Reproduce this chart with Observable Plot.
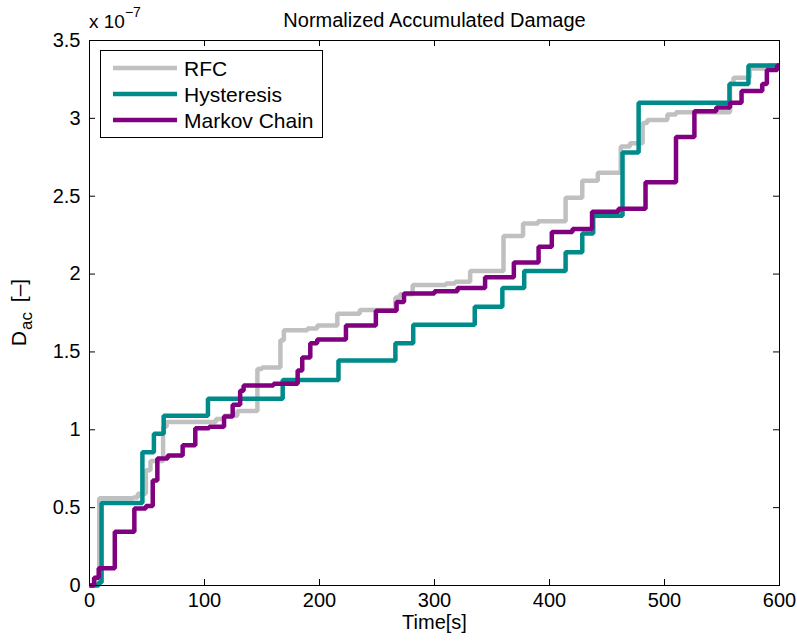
<!DOCTYPE html>
<html><head><meta charset="utf-8">
<script src="https://cdn.jsdelivr.net/npm/d3@7"></script>
<script src="https://cdn.jsdelivr.net/npm/@observablehq/plot@0.6"></script>
<style>body{margin:0;background:#fff}#chart{width:797px;height:642px}</style>
</head><body><div id="chart"></div>
<script>
const xTicks = [0, 100, 200, 300, 400, 500, 600];
const yTicks = [0, 0.5, 1, 1.5, 2, 2.5, 3, 3.5];
const seriesNames = ["RFC", "Hysteresis", "Markov Chain"];
const seriesColors = ["#c0c0c0", "#008b8b", "#800080"];
const titleText = "Normalized Accumulated Damage";
const xLabel = "Time[s]";

// values in units of 1e-7
const rfcT = [0, 5, 8.5, 38, 42, 49, 53, 64, 67, 110, 117, 128.5, 146, 150, 166, 169, 189.5, 198, 215.5, 235, 266, 270, 281, 310, 318, 331, 360, 377, 390, 414, 428.5, 442, 462, 470, 481, 485, 502.5, 510, 557, 560, 574, 590, 600];
const rfcD = [0, 0.05, 0.56, 0.565, 0.59, 0.74, 0.80, 1.02, 1.05, 1.07, 1.09, 1.12, 1.39, 1.40, 1.575, 1.64, 1.65, 1.67, 1.745, 1.77, 1.85, 1.87, 1.93, 1.94, 1.95, 2.02, 2.245, 2.325, 2.34, 2.49, 2.60, 2.65, 2.82, 2.84, 2.97, 2.99, 3.025, 3.04, 3.225, 3.26, 3.32, 3.34, 3.34];

const hysT = [0, 8, 10.5, 46, 56, 64.5, 103, 168, 216.5, 266, 281.5, 335, 359, 378, 414, 428.5, 438, 463.5, 477.5, 556.5, 573, 600];
const hysD = [0, 0.02, 0.53, 0.855, 0.975, 1.09, 1.2, 1.32, 1.445, 1.555, 1.675, 1.79, 1.91, 2.02, 2.14, 2.26, 2.375, 2.78, 3.10, 3.22, 3.34, 3.34];

const mkvT = [0, 4, 8, 22, 39, 49, 55, 59, 68, 81, 92, 104, 117, 124.5, 131, 134, 160, 181, 185, 192, 198, 223, 249, 267, 273.5, 300, 320, 344, 369, 390.5, 402, 420, 437, 460, 483.5, 510, 526, 545, 557, 567, 585, 589, 598, 600];
const mkvD = [0, 0.05, 0.11, 0.345, 0.495, 0.51, 0.675, 0.815, 0.835, 0.90, 1.01, 1.02, 1.085, 1.16, 1.25, 1.285, 1.295, 1.38, 1.465, 1.555, 1.58, 1.67, 1.765, 1.82, 1.875, 1.89, 1.91, 1.98, 2.075, 2.175, 2.27, 2.29, 2.40, 2.42, 2.59, 2.88, 3.045, 3.07, 3.10, 3.175, 3.22, 3.31, 3.34, 3.34];

const rows = [];
[[rfcT, rfcD], [hysT, hysD], [mkvT, mkvD]].forEach(([T, D], i) => {
  T.forEach((t, j) => rows.push({series: seriesNames[i], t, d: D[j]}));
});

const W = 797, H = 642, mL = 89, mR = 18, mT = 40, mB = 57;
const plotW = W - mL - mR, plotH = H - mT - mB;
const FONT = "'Liberation Sans', Arial, Helvetica, sans-serif";

const chart = Plot.plot({
  width: W, height: H,
  marginLeft: mL, marginRight: mR, marginTop: mT, marginBottom: mB,
  style: {fontFamily: FONT, fontSize: "20px", background: "#fff", color: "#000"},
  x: {domain: [0, 600]},
  y: {domain: [0, 3.5]},
  color: {domain: seriesNames, range: seriesColors},
  marks: [
    Plot.line(rows, {x: "t", y: "d", z: "series", stroke: "series", curve: "step-after",
      strokeWidth: 4.5, strokeLinejoin: "miter", strokeLinecap: "butt"}),
    Plot.frame({stroke: "#000", strokeWidth: 1}),
    Plot.tickX(xTicks, {x: d => d, insetTop: plotH - 6, stroke: "#000"}),
    Plot.tickX(xTicks, {x: d => d, insetBottom: plotH - 6, stroke: "#000"}),
    Plot.tickY(yTicks, {y: d => d, insetRight: plotW - 6, stroke: "#000"}),
    Plot.tickY(yTicks, {y: d => d, insetLeft: plotW - 6, stroke: "#000"}),
    Plot.axisX(xTicks, {tickSize: 0, tickPadding: 7, fontSize: 20, label: null, tickFormat: d => String(d)}),
    Plot.axisY(yTicks, {tickSize: 0, tickPadding: 9, fontSize: 20, label: null, tickFormat: d => String(d)}),
    Plot.text([xLabel], {frameAnchor: "bottom", dy: 43, text: d => d, fontSize: 20}),
    Plot.text([titleText], {frameAnchor: "top", dy: -28, text: d => d, fontSize: 20})
  ]
});
document.getElementById("chart").appendChild(chart);

const svg = d3.select(chart);
// y label with subscript
const yl = svg.append("text")
  .attr("transform", `translate(26,${mT + plotH / 2}) rotate(-90)`)
  .attr("text-anchor", "middle").attr("font-family", FONT).attr("font-size", 21).attr("fill", "#000");
yl.append("tspan").text("D");
yl.append("tspan").attr("font-size", 17).attr("dy", 6).attr("dx", 1).text("ac");
yl.append("tspan").attr("dy", -6).attr("dx", 4).text(" [\u2013]");

// exponent label
const ex = svg.append("text").attr("x", mL).attr("y", 28).attr("text-anchor", "start")
  .attr("font-family", FONT).attr("font-size", 19).attr("fill", "#000");
ex.append("tspan").text("x 10");
ex.append("tspan").attr("font-size", 14).attr("dy", -11).text("\u22127");

// legend
const lg = svg.append("g");
lg.append("rect").attr("x", 100.5).attr("y", 50.5).attr("width", 222).attr("height", 87)
  .attr("fill", "#fff").attr("stroke", "#000").attr("stroke-width", 1);
seriesNames.forEach((name, i) => {
  const y = 68 + i * 26;
  lg.append("line").attr("x1", 113).attr("x2", 177).attr("y1", y).attr("y2", y)
    .attr("stroke", seriesColors[i]).attr("stroke-width", 4.5);
  lg.append("text").attr("x", 184).attr("y", y).attr("dy", "0.36em").attr("text-anchor", "start")
    .attr("font-family", FONT).attr("font-size", 21).attr("fill", "#000").text(name);
});
</script>
</body></html>
